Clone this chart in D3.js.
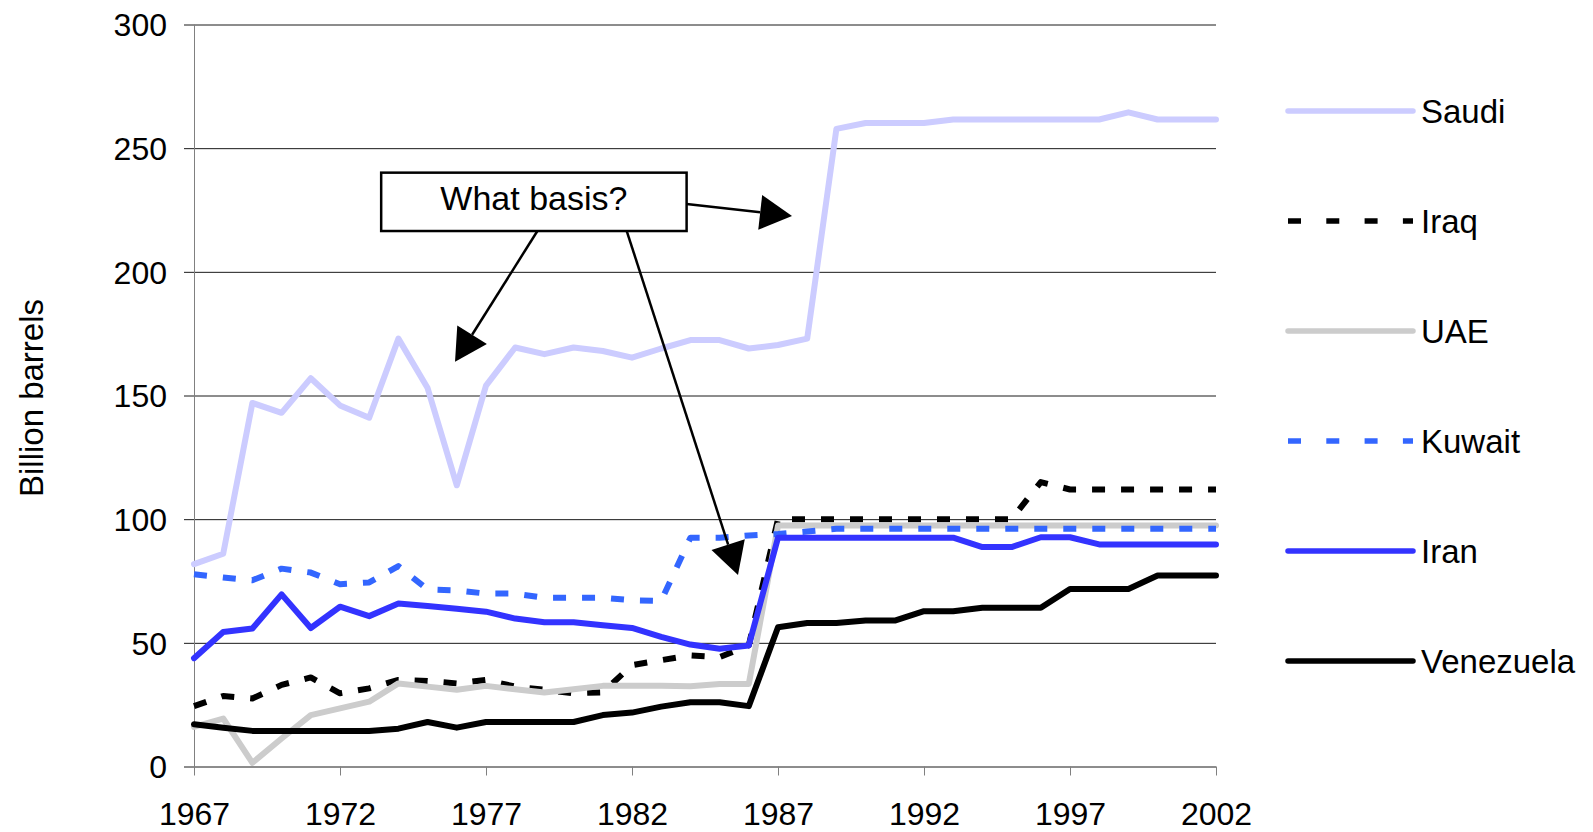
<!DOCTYPE html>
<html>
<head>
<meta charset="utf-8">
<title>Proved oil reserves</title>
<script src="https://cdn.jsdelivr.net/npm/d3@7"></script>
<style>
  html, body { margin: 0; padding: 0; background: #fff; }
  svg text { font-family: "Liberation Sans", Arial, sans-serif; fill: #000; }
</style>
</head>
<body>
<div id="vis"></div>
<script>
// Proved reserves, billion barrels, 1967-2002

var years = d3.range(1967, 2003);

var saudi = [81.8, 86, 147, 143, 157, 146, 141, 173, 153, 113.7,
             154, 169.4, 166.7, 169.4, 168, 165.3, 169, 172.4, 172.4, 169,
             170.4, 173, 257.8, 260.2, 260.2, 260.2, 261.6, 261.6, 261.6, 261.6,
             261.6, 261.6, 264.5, 261.6, 261.6, 261.6];
var iraq = [24.4, 28.5, 27.5, 33, 36, 29.6, 31.6, 35, 34.6, 33.6,
            35, 32.3, 31, 29.6, 30, 41, 43, 44.9, 44.2, 49,
            100, 100, 100, 100, 100, 100, 100, 100, 100, 115,
            112, 112, 112, 112, 112, 112];
var uae = [16, 19.4, 1.5, 11.3, 20.8, 23.5, 26.2, 33.6, 32.3, 31,
           32.6, 31.2, 29.9, 31.2, 32.6, 32.6, 32.6, 32.4, 33.4, 33.4,
           97.4, 97.4, 97.4, 97.4, 97.4, 97.4, 97.4, 97.4, 97.4, 97.4,
           97.4, 97.4, 97.4, 97.4, 97.4, 97.4];
var kuwait = [77.7, 76.4, 75.3, 80, 78.4, 73.7, 74.4, 81, 71.6, 71.2,
              69.9, 69.9, 68.2, 68.2, 68.2, 67.2, 67, 92.5, 92.5, 93.4,
              94, 95, 96.1, 96.1, 96.1, 96.1, 96.1, 96.1, 96.1, 96.1,
              96.1, 96.1, 96.1, 96.1, 96.1, 96.1];
var iran = [43.8, 54.4, 55.8, 69.6, 56, 64.6, 60.8, 65.9, 64.9, 63.8,
            62.6, 59.8, 58.3, 58.3, 57.1, 56, 52.4, 49.3, 47.6, 48.9,
            92.5, 92.5, 92.5, 92.5, 92.5, 92.5, 92.5, 88.7, 88.7, 92.7,
            92.7, 89.8, 89.8, 89.8, 89.8, 89.8];
var venezuela = [17.1, 15.7, 14.4, 14.4, 14.4, 14.4, 14.4, 15.3, 18, 15.7,
                 18, 18, 18, 18, 20.8, 21.8, 24.2, 26, 26, 24.4,
                 56.3, 58, 58, 59, 59, 62.8, 62.8, 64.2, 64.2, 64.2,
                 71.8, 71.8, 71.8, 77.2, 77.2, 77.2];

var seriesNames = ['Saudi', 'Iraq', 'UAE', 'Kuwait', 'Iran', 'Venezuela'];
var seriesValues = [saudi, iraq, uae, kuwait, iran, venezuela];

var xTickValues = [1967, 1972, 1977, 1982, 1987, 1992, 1997, 2002];
var yTickValues = [0, 50, 100, 150, 200, 250, 300];
var yLabel = 'Billion barrels';

// annotation, in chart units (year, billion barrels)
var noteText = 'What basis?';
var noteBox = { x0: 1973.41, x1: 1983.87, y0: 216.5, y1: 240.1 };
var noteArrows = [
  { from: [1983.87, 227.4], to: [1987.48, 222.6] },
  { from: [1978.76, 216.5], to: [1975.94, 163.6] },
  { from: [1981.82, 216.5], to: [1985.63, 77.4] }
];

// line styles per series
var styles = {
  Saudi:     { color: '#ccccff', dash: null },
  Iraq:      { color: '#000000', dash: '13,16', legendDash: '13,25.3' },
  UAE:       { color: '#cccccc', dash: null },
  Kuwait:    { color: '#3366ff', dash: '13,16', legendDash: '13,25.3' },
  Iran:      { color: '#3333ff', dash: null },
  Venezuela: { color: '#000000', dash: null }
};

var W = 1593, H = 832;
var svg = d3.select('#vis').append('svg')
  .attr('width', W)
  .attr('height', H);

svg.append('rect').attr('width', W).attr('height', H).attr('fill', '#fff');

var x = d3.scaleLinear().domain([1967, 2002]).range([194, 1216]);
var y = d3.scaleLinear().domain([0, 300]).range([766.5, 24.5]);

// gridlines (incl. the zero line)
svg.append('g')
  .attr('transform', 'translate(184,0)')
  .call(d3.axisLeft(y).tickValues(yTickValues).tickSize(-(1216 - 184)).tickFormat(''))
  .call(g => g.select('.domain').remove())
  .call(g => g.selectAll('line').attr('stroke', '#1a1a1a').attr('stroke-width', 1));

// y tick labels
svg.append('g')
  .attr('transform', 'translate(194,0)')
  .call(d3.axisLeft(y).tickValues(yTickValues).tickSize(0).tickPadding(27))
  .call(g => g.select('.domain').remove())
  .call(g => g.selectAll('text').attr('font-size', 32).attr('dy', '0.35em'));

// vertical axis line
svg.append('line')
  .attr('x1', 194.5).attr('x2', 194.5)
  .attr('y1', y(300)).attr('y2', 775)
  .attr('stroke', '#808080').attr('stroke-width', 1);

// x axis
svg.append('g')
  .attr('transform', `translate(0,${y(0)})`)
  .call(d3.axisBottom(x).tickValues(xTickValues).tickFormat(d3.format('d'))
    .tickSize(9).tickPadding(26.5))
  .call(g => g.select('.domain').remove())
  .call(g => g.selectAll('line').attr('stroke', '#808080'))
  .call(g => g.selectAll('text').attr('font-size', 32));

// axis title
svg.append('text')
  .attr('transform', 'translate(43,398) rotate(-90)')
  .attr('text-anchor', 'middle')
  .attr('font-size', 33)
  .text(yLabel);

// series lines
var line = d3.line()
  .x((d, i) => x(years[i]))
  .y(d => y(d));

seriesNames.forEach(function(name, k) {
  var st = styles[name];
  svg.append('path')
    .datum(seriesValues[k])
    .attr('d', line)
    .attr('fill', 'none')
    .attr('stroke', st.color)
    .attr('stroke-width', 6)
    .attr('stroke-linejoin', 'round')
    .attr('stroke-linecap', st.dash ? 'butt' : 'round')
    .attr('stroke-dasharray', st.dash);
});

// legend
var legend = svg.append('g').attr('class', 'legend');
seriesNames.forEach(function(name, i) {
  var st = styles[name];
  var ly = 111 + i * 110;
  legend.append('line')
    .attr('x1', 1288).attr('x2', 1413)
    .attr('y1', ly).attr('y2', ly)
    .attr('stroke', st.color)
    .attr('stroke-width', 5.5)
    .attr('stroke-linecap', st.dash ? 'butt' : 'round')
    .attr('stroke-dasharray', st.legendDash || null);
  legend.append('text')
    .attr('x', 1421).attr('y', ly)
    .attr('dy', '0.35em')
    .attr('font-size', 33)
    .text(name);
});

// annotation box
var note = svg.append('g').attr('class', 'note');

noteArrows.forEach(function(a) {
  var x1 = x(a.from[0]), y1 = y(a.from[1]);
  var x2 = x(a.to[0]),   y2 = y(a.to[1]);
  var dx = x2 - x1, dy = y2 - y1, len = Math.sqrt(dx * dx + dy * dy);
  var ux = dx / len, uy = dy / len;
  var headLen = 32, headW = 35;
  var bx = x2 - ux * headLen, by = y2 - uy * headLen;
  note.append('line')
    .attr('x1', x1).attr('y1', y1)
    .attr('x2', bx).attr('y2', by)
    .attr('stroke', '#000').attr('stroke-width', 2.5);
  note.append('path')
    .attr('d', `M${x2},${y2}L${bx - uy * headW / 2},${by + ux * headW / 2}` +
               `L${bx + uy * headW / 2},${by - ux * headW / 2}Z`)
    .attr('fill', '#000');
});

note.append('rect')
  .attr('x', x(noteBox.x0)).attr('y', y(noteBox.y1))
  .attr('width', x(noteBox.x1) - x(noteBox.x0))
  .attr('height', y(noteBox.y0) - y(noteBox.y1))
  .attr('fill', '#fff')
  .attr('stroke', '#000')
  .attr('stroke-width', 2.5);

note.append('text')
  .attr('x', (x(noteBox.x0) + x(noteBox.x1)) / 2)
  .attr('y', (y(noteBox.y0) + y(noteBox.y1)) / 2)
  .attr('dy', '0.24em')
  .attr('text-anchor', 'middle')
  .attr('font-size', 34)
  .text(noteText);
</script>
</body>
</html>
